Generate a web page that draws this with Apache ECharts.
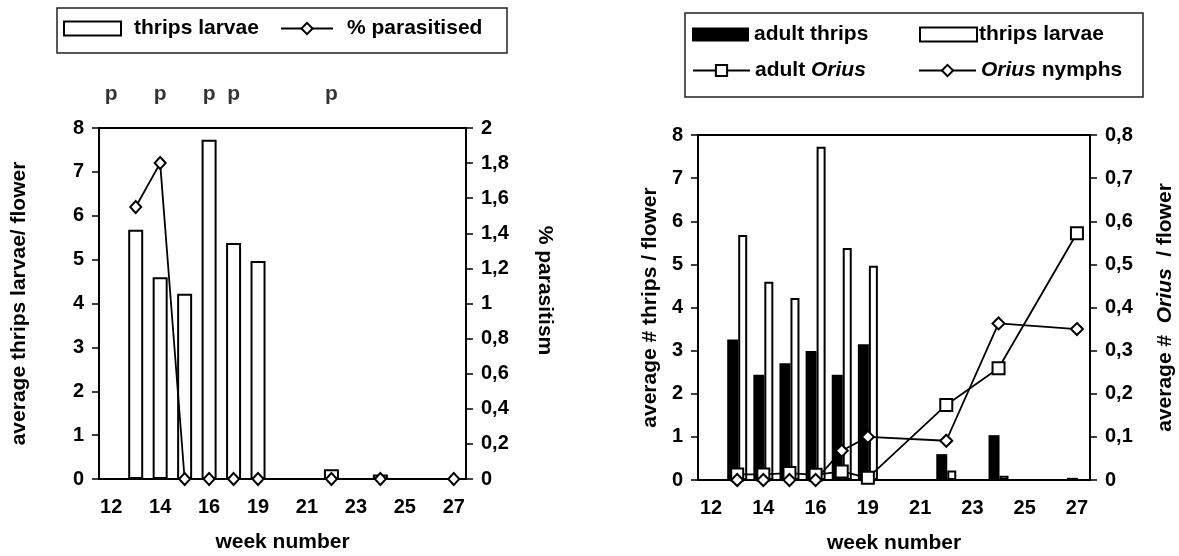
<!DOCTYPE html>
<html>
<head>
<meta charset="utf-8">
<script src="https://cdn.jsdelivr.net/npm/echarts@6/dist/echarts.min.js"></script>
<style>
    html, body { margin: 0; padding: 0; background: #fff; }
    .wrap { position: relative; width: 1179px; height: 556px; }
    #left { position: absolute; left: 0; top: 0; width: 590px; height: 556px; }
    #right { position: absolute; left: 590px; top: 0; width: 589px; height: 556px; }
</style>
</head>
<body>
<div class="wrap">
    <div id="left"></div>
    <div id="right"></div>
</div>
<script>
// week categories (17 is missing in the original)
const weeks = ["12", "13", "14", "15", "16", "18", "19", "20", "21", "22", "23", "24", "25", "26", "27"];

// average thrips larvae per flower
const thripsLarvae = [null, 5.68, 4.6, 4.22, 7.73, 5.38, 4.97, null, null, 0.22, null, 0.1, null, null, 0];
// % parasitised (right axis, left chart)
const parasitised = [null, 1.55, 1.8, 0, 0, 0, 0, null, null, 0, null, 0, null, null, 0];
// weeks marked with "p"
const pWeeks = ["12", "14", "16", "18", "22"];

// right chart
const adultThrips = [null, 3.26, 2.44, 2.71, 2.99, 2.44, 3.15, null, null, 0.6, null, 1.04, null, null, 0.05];
const adultOrius = [null, 0.013, 0.013, 0.016, 0.012, 0.02, 0.005, null, null, 0.174, null, 0.259, null, null, 0.572];
const oriusNymphs = [null, 0, 0, 0, 0, 0.068, 0.1, null, null, 0.091, null, 0.363, null, null, 0.35];

const FONT = "'Liberation Sans', Arial, sans-serif";
const black = "#000";

const txt = (size) => ({ color: black, fontFamily: FONT, fontWeight: "bold", fontSize: size });
const comma = (v) => String(Math.round(v * 10) / 10).replace(".", ",");

function xAxisOpt() {
    return {
        type: "category",
        data: weeks,
        name: "week number",
        nameLocation: "middle",
        nameGap: 53,
        nameTextStyle: txt(21),
        axisLine: { lineStyle: { color: black, width: 2 } },
        axisTick: { interval: 0, length: 6, lineStyle: { color: black, width: 1.5 } },
        axisLabel: Object.assign({ interval: 1, margin: 18 }, txt(20)),
        splitLine: { show: false },
    };
}

function yAxisOpt(o) {
    return Object.assign({
        type: "value",
        min: 0,
        nameLocation: "middle",
        nameTextStyle: txt(21),
        axisLine: { show: true, lineStyle: { color: black, width: 2 } },
        axisTick: { show: true, length: 7, lineStyle: { color: black, width: 1.5 } },
        axisLabel: Object.assign({ margin: 15, formatter: comma }, txt(20)),
        splitLine: { show: false },
    }, o);
}

function legendOpt(name, left, top, extra) {
    return Object.assign({
        data: [name],
        left: left,
        top: top,
        padding: 0,
        itemWidth: 57,
        itemHeight: 14,
        selectedMode: false,
        textStyle: Object.assign({ rich: { i: Object.assign({ fontStyle: "italic" }, txt(21)) } }, txt(21)),
    }, extra);
}

function initLeftChart() {
    const chart = echarts.init(document.getElementById("left"));
    chart.setOption({
        animation: false,
        graphic: [{
            type: "rect",
            shape: { x: 57, y: 8, width: 450, height: 45 },
            style: { fill: "none", stroke: "#222", lineWidth: 1.5 },
        }],
        legend: [
            legendOpt("thrips larvae", 63, 18, { icon: "rect", textStyle: Object.assign({ padding: [0, 0, 0, 8] }, txt(21)) }),
            legendOpt("% parasitised", 280, 18, { itemWidth: 52, textStyle: Object.assign({ padding: [0, 0, 0, 9] }, txt(21)) }),
        ],
        grid: {
            left: 99, right: 124, top: 128, bottom: 77,
            outerBoundsMode: "none",
            show: true, borderColor: black, borderWidth: 2,
        },
        xAxis: xAxisOpt(),
        yAxis: [
            yAxisOpt({ max: 8, interval: 1, name: "average thrips larvae/ flower", nameGap: 69, nameRotate: 90 }),
            yAxisOpt({
                max: 2, interval: 0.2, name: "% parasitism", nameGap: 68, nameRotate: -90, position: "right",
                nameTextStyle: Object.assign({ padding: [0, 26, 0, 0] }, txt(21)),
            }),
        ],
        series: [
            {
                name: "thrips larvae",
                type: "bar",
                data: thripsLarvae,
                barWidth: 15,
                itemStyle: { color: "#fff", borderColor: black, borderWidth: 2 },
            },
            {
                name: "% parasitised",
                type: "line",
                yAxisIndex: 1,
                data: parasitised,
                connectNulls: true,
                symbol: "diamond",
                symbolSize: [11, 12],
                lineStyle: { color: black, width: 1.8 },
                itemStyle: { color: "#fff", borderColor: black, borderWidth: 2 },
            },
            {
                name: "p",
                type: "scatter",
                data: pWeeks.map((w) => [w, 8]),
                symbolSize: 1,
                silent: true,
                itemStyle: { color: "transparent" },
                label: Object.assign({ show: true, formatter: "p", position: "top", distance: 23 }, txt(21)),
            },
        ],
    });
    return chart;
}

function initRightChart() {
    const chart = echarts.init(document.getElementById("right"));
    const oriusFmt = (name) => name === "adult Orius" ? "adult {i|Orius}" : name === "Orius nymphs" ? "{i|Orius} nymphs" : name;
    chart.setOption({
        animation: false,
        graphic: [{
            type: "rect",
            shape: { x: 95, y: 13, width: 458, height: 84 },
            style: { fill: "none", stroke: "#222", lineWidth: 1.5 },
        }],
        legend: [
            legendOpt("adult thrips", 102, 24, { icon: "rect" }),
            legendOpt("thrips larvae", 329, 24, { icon: "rect", textStyle: Object.assign({ padding: [0, 0, 0, -3] }, txt(21)) }),
            legendOpt("adult Orius", 102, 60, { formatter: oriusFmt }),
            legendOpt("Orius nymphs", 328, 60, { formatter: oriusFmt }),
        ],
        grid: {
            left: 108, right: 89, top: 135, bottom: 76,
            outerBoundsMode: "none",
            show: true, borderColor: black, borderWidth: 2,
        },
        xAxis: xAxisOpt(),
        yAxis: [
            yAxisOpt({ max: 8, interval: 1, name: "average # thrips / flower", nameGap: 37, nameRotate: 90 }),
            yAxisOpt({
                max: 0.8, interval: 0.1, position: "right", nameGap: 65, nameRotate: 90,
                name: "average #  {i|Orius}  / flower",
                nameTextStyle: Object.assign({ rich: { i: Object.assign({ fontStyle: "italic" }, txt(21)) } }, txt(21)),
            }),
        ],
        series: [
            {
                name: "adult thrips",
                type: "bar",
                data: adultThrips,
                barWidth: 11,
                barGap: "0%",
                itemStyle: { color: black, borderColor: black, borderWidth: 0 },
            },
            {
                name: "thrips larvae",
                type: "bar",
                data: thripsLarvae,
                barWidth: 9,
                itemStyle: { color: "#fff", borderColor: black, borderWidth: 2 },
            },
            {
                name: "adult Orius",
                type: "line",
                yAxisIndex: 1,
                data: adultOrius,
                connectNulls: true,
                symbol: "rect",
                symbolSize: 12,
                lineStyle: { color: black, width: 1.8 },
                itemStyle: { color: "#fff", borderColor: black, borderWidth: 2 },
            },
            {
                name: "Orius nymphs",
                type: "line",
                yAxisIndex: 1,
                data: oriusNymphs,
                connectNulls: true,
                symbol: "diamond",
                symbolSize: [12, 12],
                lineStyle: { color: black, width: 1.8 },
                itemStyle: { color: "#fff", borderColor: black, borderWidth: 2 },
            },
        ],
    });
    return chart;
}

const leftChart = initLeftChart();
const rightChart = initRightChart();

window.addEventListener("resize", () => {
    leftChart.resize();
    rightChart.resize();
});
</script>
</body>
</html>
